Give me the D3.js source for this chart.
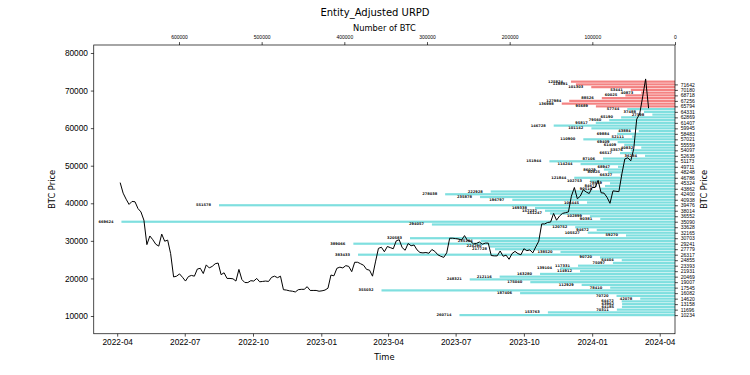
<!DOCTYPE html>
<html>
<head>
<meta charset="utf-8">
<script src="https://cdn.jsdelivr.net/npm/d3@7/dist/d3.min.js"></script>
<style>
    body { margin: 0; background: #fff; }
    svg { font-family: "DejaVu Sans", sans-serif; }
</style>
</head>
<body>
<svg id="urpd" width="750" height="375"></svg>
<script>

// Price series: one close every 4 days from the first date
const priceStart = "2022-04-05";
const priceStepDays = 4;
const prices = [
    45500, 42700, 41100, 39700, 40500, 40400, 38600, 37700, 35500, 29000,
    31300, 30300, 29100, 28600, 31800, 29900, 30200, 26600, 20400, 20600,
    21200, 20300, 19300, 20500, 20800, 20600, 22500, 22700, 21300, 23600,
    22800, 23200, 23900, 24100, 21000, 21500, 20000, 20000, 19900, 19300,
    22400, 19700, 18900, 18900, 19400, 19300, 20000, 19100, 19200, 19300,
    19200, 20300, 20600, 20200, 20600, 17000, 16900, 16700, 16600, 16400,
    17000, 17100, 17100, 17800, 16800, 16800, 16800, 16600, 16700, 16900,
    17400, 20900, 20700, 22700, 23000, 22800, 23400, 23200, 21800, 24300,
    24300, 23900, 23500, 22400, 22200, 20600, 24400, 28000, 28300, 27100,
    28500, 28200, 27900, 30000, 30300, 28200, 27500, 29300, 28700, 28900,
    27600, 26900, 26800, 26900, 26700, 27700, 27200, 26300, 25900, 25600,
    26800, 30700, 30700, 30600, 30500, 30200, 31400, 30100, 29900, 29200,
    29300, 29700, 29100, 29400, 29400, 26100, 26000, 26000, 27300, 25900,
    26200, 25100, 26600, 27200, 26600, 26300, 27900, 27400, 27600, 26800,
    28400, 29900, 34500, 34500, 34900, 35000, 37300, 35500, 36600, 37300,
    37500, 37700, 41900, 44200, 41200, 41900, 43600, 43000, 42600, 44200,
    44200, 46100, 42800, 42700, 41600, 40000, 43300, 43200, 43100, 47800,
    51800, 52100, 51300, 54500, 62400, 63800, 68300, 73100, 65300
];

// URPD buckets (price level) and supply held in each (BTC)
const barPrices = [
    10234, 10965, 11696, 12427, 13158, 13889, 14620, 15351, 16082, 16813,
    17544, 18275, 19006, 19737, 20468, 21199, 21930, 22661, 23392, 24124,
    24855, 25586, 26317, 27048, 27779, 28510, 29241, 29972, 30703, 31434,
    32165, 32896, 33627, 34358, 35089, 35820, 36551, 37282, 38013, 38744,
    39475, 40207, 40938, 41669, 42400, 43131, 43862, 44593, 45324, 46055,
    46786, 47517, 48248, 48979, 49710, 50441, 51172, 51903, 52634, 53366,
    54097, 54828, 55559, 56290, 57021, 57752, 58483, 59214, 59945, 60676,
    61407, 62138, 62869, 63600, 64331, 65062, 65793, 66524, 67256, 67987,
    68718, 69449, 70180, 70911, 71642, 72373
];
const barBTC = [
    260714, 153763, 70311, 64185, 63962, 64472, 42078, 70720, 187406, 355032,
    78410, 112929, 175040, 248321, 212116, 163280, 114912, 139104, 117331, 75097,
    64404, 90720, 383433, 138520, 217728, 224290, 389066, 235104, 320583, 59270,
    105527, 94672, 120752, 294057, 669624, 90381, 102899, 151247, 157237, 169338,
    551578, 106445, 196797, 235878, 278038, 222928, 90516, 84672, 78619, 102753,
    121844, 66327, 80925, 86029, 68947, 114244, 151944, 87106, 36284, 66517,
    53576, 40832, 61409, 69409, 110900, 52111, 69884, 43884, 101142, 146728,
    95817, 79560, 65190, 27398, 37488, 57744, 95689, 136998, 127984, 88526,
    60025, 40873, 53441, 101303, 119891, 125824
];

// Tick values
const priceTicks = [10000, 20000, 30000, 40000, 50000, 60000, 70000, 80000];
const btcTicks = [0, 100000, 200000, 300000, 400000, 500000, 600000];
const rightTicks = [
    10234, 11696, 13158, 14620, 16082, 17545, 19007, 20469, 21931, 23393,
    24855, 26317, 27779, 29241, 30703, 32165, 33628, 35090, 36552, 38014,
    39476, 40938, 42400, 43862, 45324, 46786, 48248, 49711, 51173, 52635,
    54097, 55559, 57021, 58483, 59945, 61407, 62869, 64331, 65794, 67256,
    68718, 70180, 71642
];

class URPDChart {

    static width = 750;
    static frame = {left: 93.75, right: 675, top: 45, bottom: 333.75};
    static priceDomain = [5276, 82129];
    static tick = 2.9;
    static colours = {above: "#f48282", below: "#7fdfdf"};

    constructor(identifier) {
        this.svg = d3.select(`#${identifier}`);
    }

    draw() {
        const f = URPDChart.frame;
        const svg = this.svg;
        const t = URPDChart.tick;

        const start = d3.timeParse("%Y-%m-%d")(priceStart);
        const series = prices.map((p, i) => ({date: d3.timeDay.offset(start, i*priceStepDays), price: p}));
        const lastPrice = prices[prices.length-1];

        // Scales (time axis padded 5% like matplotlib)
        const t0 = series[0].date, t1 = series[series.length-1].date;
        const span = t1 - t0;
        const x = d3.scaleTime()
            .domain([new Date(+t0 - span*0.05), new Date(+t1 + span*0.05)])
            .range([f.left, f.right]);
        const y = d3.scaleLinear()
            .domain(URPDChart.priceDomain)
            .range([f.bottom, f.top]);
        const xb = d3.scaleLinear()
            .domain([d3.max(barBTC)*1.05, 0])
            .range([f.left, f.right]);

        svg.append("clipPath").attr("id", "plotclip")
            .append("rect")
            .attr("x", f.left).attr("y", f.top)
            .attr("width", f.right-f.left).attr("height", f.bottom-f.top);

        const plot = svg.append("g").attr("clip-path", "url(#plotclip)");

        // Bars
        const half = (barPrices[1]-barPrices[0])*0.4;
        const bars = barPrices.map((p, i) => ({price: p, btc: barBTC[i]}));
        plot.append("g")
            .selectAll("rect")
            .data(bars)
            .join("rect")
            .attr("x", d => xb(d.btc))
            .attr("width", d => xb(0) - xb(d.btc))
            .attr("y", d => y(d.price + half))
            .attr("height", d => y(d.price - half) - y(d.price + half))
            .attr("fill", d => d.price > lastPrice ? URPDChart.colours.above : URPDChart.colours.below);

        // Bar value labels
        plot.append("g")
            .selectAll("text")
            .data(bars)
            .join("text")
            .attr("x", d => xb(d.btc) - 8)
            .attr("y", d => y(d.price))
            .attr("text-anchor", "end")
            .attr("dominant-baseline", "central")
            .style("font-size", "3.6px")
            .style("font-weight", "bold")
            .attr("fill", "#111")
            .text(d => d3.format("d")(d.btc));

        // Price line
        plot.append("path")
            .datum(series)
            .attr("fill", "none")
            .attr("stroke", "#000")
            .attr("stroke-width", 1)
            .attr("stroke-linejoin", "round")
            .attr("d", d3.line()
                .x(d => x(d.date))
                .y(d => y(d.price))
            );

        // Axes
        const styleAxis = (g, size) => {
            g.select(".domain").remove();
            g.selectAll(".tick line").attr("stroke", "#000").attr("stroke-width", 0.7);
            g.selectAll(".tick text").style("font-size", size).attr("fill", "#000");
        };
        svg.append("g")
            .attr("transform", `translate(0, ${f.bottom})`)
            .call(d3.axisBottom(x)
                .tickValues(d3.timeMonth.range(new Date(2022, 3, 1), new Date(2024, 3, 2), 3))
                .tickFormat(d3.timeFormat("%Y-%m"))
                .tickSize(t).tickPadding(t))
            .call(g => styleAxis(g, "8.3px"));
        svg.append("g")
            .attr("transform", `translate(${f.left}, 0)`)
            .call(d3.axisLeft(y).tickValues(priceTicks).tickFormat(d3.format("d"))
                .tickSize(t).tickPadding(t))
            .call(g => styleAxis(g, "8.3px"));
        svg.append("g")
            .attr("transform", `translate(0, ${f.top})`)
            .call(d3.axisTop(xb).tickValues(btcTicks).tickFormat(d3.format("d"))
                .tickSize(t).tickPadding(t))
            .call(g => styleAxis(g, "5px"));
        svg.append("g")
            .attr("transform", `translate(${f.right}, 0)`)
            .call(d3.axisRight(y).tickValues(rightTicks).tickFormat(d3.format("d"))
                .tickSize(t).tickPadding(t))
            .call(g => styleAxis(g, "5px"));

        // Frame
        svg.append("rect")
            .attr("x", f.left).attr("y", f.top)
            .attr("width", f.right-f.left).attr("height", f.bottom-f.top)
            .attr("fill", "none")
            .attr("stroke", "#000")
            .attr("stroke-width", 0.7);

        // Titles (figure title is centred on the figure, axis labels on the axes)
        const cx = (f.left+f.right)/2, cy = (f.top+f.bottom)/2;
        const label = (txt, px, py, size, rotate) => svg.append("text")
            .attr("transform", `translate(${px}, ${py})` + (rotate ? " rotate(-90)" : ""))
            .attr("text-anchor", "middle")
            .attr("dominant-baseline", "central")
            .style("font-size", size)
            .text(txt);
        label("Entity_Adjusted URPD", URPDChart.width/2, 12.5, "10px");
        label("Number of BTC", cx, 27.5, "8.3px");
        label("Time", cx, 357, "8.3px");
        label("BTC Price", 52, cy, "8.3px", true);
        label("BTC Price", 704, cy, "8.3px", true);
    }
}

new URPDChart("urpd").draw();

</script>
</body>
</html>
